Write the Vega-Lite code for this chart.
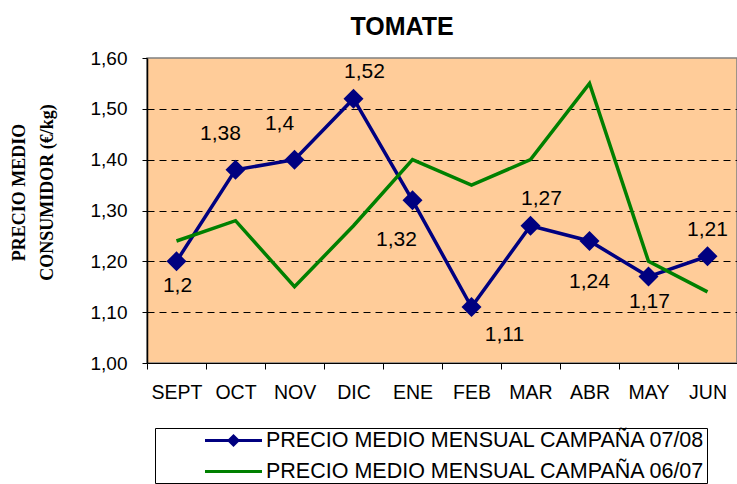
{
  "$schema": "https://vega.github.io/schema/vega-lite/v6.json",
  "width": 590,
  "height": 305,
  "autosize": {"type": "none"},
  "padding": {"left": 147, "top": 58, "right": 0, "bottom": 121},
  "background": "white",
  "config": {
    "locale": {"number": {"decimal": ",", "thousands": ".", "grouping": [3], "currency": ["", " €"]}},
    "view": {"fill": "#FFCC99", "stroke": "#808080", "strokeWidth": 1.5},
    "font": "Liberation Sans",
    "text": {"font": "Liberation Sans", "fontSize": 21, "color": "black", "baseline": "middle", "align": "center"}
  },
  "title": {"text": "TOMATE", "fontSize": 25, "font": "Liberation Sans", "fontWeight": "bold", "color": "black", "anchor": "middle", "dx": -40, "offset": 9},
  "data": {"values": [
    {"mes": "SEPT", "serie": "PRECIO MEDIO MENSUAL CAMPAÑA 07/08", "precio": 1.2},
    {"mes": "OCT", "serie": "PRECIO MEDIO MENSUAL CAMPAÑA 07/08", "precio": 1.38},
    {"mes": "NOV", "serie": "PRECIO MEDIO MENSUAL CAMPAÑA 07/08", "precio": 1.4},
    {"mes": "DIC", "serie": "PRECIO MEDIO MENSUAL CAMPAÑA 07/08", "precio": 1.52},
    {"mes": "ENE", "serie": "PRECIO MEDIO MENSUAL CAMPAÑA 07/08", "precio": 1.32},
    {"mes": "FEB", "serie": "PRECIO MEDIO MENSUAL CAMPAÑA 07/08", "precio": 1.11},
    {"mes": "MAR", "serie": "PRECIO MEDIO MENSUAL CAMPAÑA 07/08", "precio": 1.27},
    {"mes": "ABR", "serie": "PRECIO MEDIO MENSUAL CAMPAÑA 07/08", "precio": 1.24},
    {"mes": "MAY", "serie": "PRECIO MEDIO MENSUAL CAMPAÑA 07/08", "precio": 1.17},
    {"mes": "JUN", "serie": "PRECIO MEDIO MENSUAL CAMPAÑA 07/08", "precio": 1.21},
    {"mes": "SEPT", "serie": "PRECIO MEDIO MENSUAL CAMPAÑA 06/07", "precio": 1.24},
    {"mes": "OCT", "serie": "PRECIO MEDIO MENSUAL CAMPAÑA 06/07", "precio": 1.28},
    {"mes": "NOV", "serie": "PRECIO MEDIO MENSUAL CAMPAÑA 06/07", "precio": 1.15},
    {"mes": "DIC", "serie": "PRECIO MEDIO MENSUAL CAMPAÑA 06/07", "precio": 1.27},
    {"mes": "ENE", "serie": "PRECIO MEDIO MENSUAL CAMPAÑA 06/07", "precio": 1.4},
    {"mes": "FEB", "serie": "PRECIO MEDIO MENSUAL CAMPAÑA 06/07", "precio": 1.35},
    {"mes": "MAR", "serie": "PRECIO MEDIO MENSUAL CAMPAÑA 06/07", "precio": 1.4},
    {"mes": "ABR", "serie": "PRECIO MEDIO MENSUAL CAMPAÑA 06/07", "precio": 1.55},
    {"mes": "MAY", "serie": "PRECIO MEDIO MENSUAL CAMPAÑA 06/07", "precio": 1.2},
    {"mes": "JUN", "serie": "PRECIO MEDIO MENSUAL CAMPAÑA 06/07", "precio": 1.14}
  ]},
  "encoding": {
    "x": {
      "field": "mes", "type": "ordinal",
      "sort": ["SEPT", "OCT", "NOV", "DIC", "ENE", "FEB", "MAR", "ABR", "MAY", "JUN"],
      "scale": {"type": "band", "paddingInner": 0, "paddingOuter": 0},
      "axis": {
        "title": null, "labelAngle": 0, "labelFontSize": 19.5, "labelFont": "Liberation Sans", "labelColor": "black",
        "tickBand": "extent", "tickSize": 6, "tickColor": "#000", "domainColor": "#000", "domainWidth": 1,
        "labelPadding": 14, "grid": false
      }
    },
    "y": {
      "field": "precio", "type": "quantitative",
      "scale": {"domain": [1, 1.6], "nice": false, "zero": false},
      "axis": {
        "values": [1, 1.1, 1.2, 1.3, 1.4, 1.5, 1.6], "format": ".2f",
        "labelFontSize": 19, "labelFont": "Liberation Sans", "labelColor": "black", "labelPadding": 15,
        "tickSize": 5, "tickColor": "#000", "domainColor": "#000", "domainWidth": 1.5,
        "grid": true, "gridColor": "#000", "gridDash": [7, 5], "gridWidth": 1,
        "gridOpacity": {"condition": {"test": "datum.value > 1.59 || datum.value < 1.01", "value": 0}, "value": 1},
        "title": ["PRECIO MEDIO", "CONSUMIDOR (€/kg)"],
        "titleFont": "Liberation Serif", "titleFontWeight": "bold", "titleFontSize": 18, "titleColor": "black",
        "titleLineHeight": 28, "titleAngle": -90, "titleX": -128, "titleY": 134, "titleAlign": "center", "titleBaseline": "middle"
      }
    }
  },
  "layer": [
    {
      "mark": {"type": "line", "strokeWidth": 3.5},
      "encoding": {
        "color": {
          "field": "serie", "type": "nominal",
          "scale": {"domain": ["PRECIO MEDIO MENSUAL CAMPAÑA 07/08", "PRECIO MEDIO MENSUAL CAMPAÑA 06/07"], "range": ["#000080", "#008000"]},
          "legend": {
            "orient": "none", "legendX": 8, "legendY": 370, "title": null, "direction": "vertical",
            "strokeColor": "#000", "fillColor": "white", "padding": 1,
            "labelFontSize": 21.5, "labelFont": "Liberation Sans", "labelColor": "black", "labelLimit": 700,
            "symbolSize": 400, "symbolStrokeWidth": 3, "symbolOffset": 66, "labelOffset": 21, "rowPadding": 9,
            "encode": {"symbols": {"update": {
              "shape": {"signal": "datum.value === 'PRECIO MEDIO MENSUAL CAMPAÑA 07/08' ? 'M-2.85,0H2.85M-0.45,0L0,-0.45L0.45,0L0,0.45Z' : 'M-2.85,0H2.85'"},
              "fill": {"signal": "datum.value === 'PRECIO MEDIO MENSUAL CAMPAÑA 07/08' ? '#000080' : 'transparent'"}
            }}}
          }
        },
        "order": {"field": "serie", "sort": "descending"}
      }
    },
    {
      "transform": [{"filter": "datum.serie === 'PRECIO MEDIO MENSUAL CAMPAÑA 07/08'"}],
      "mark": {"type": "point", "shape": "diamond", "filled": true, "size": 400, "color": "#000080", "opacity": 1}
    },
    {
      "transform": [{"filter": "datum.serie === 'PRECIO MEDIO MENSUAL CAMPAÑA 07/08' && (datum.mes === 'SEPT' || datum.mes === 'MAY')"}],
      "mark": {"type": "text", "dx": 1, "dy": 25},
      "encoding": {"text": {"field": "precio", "type": "quantitative", "format": ".3~g"}}
    },
    {
      "transform": [{"filter": "datum.serie === 'PRECIO MEDIO MENSUAL CAMPAÑA 07/08' && datum.mes === 'FEB'"}],
      "mark": {"type": "text", "dx": 33, "dy": 28},
      "encoding": {"text": {"field": "precio", "type": "quantitative", "format": ".3~g"}}
    },
    {
      "transform": [{"filter": "datum.serie === 'PRECIO MEDIO MENSUAL CAMPAÑA 07/08' && datum.mes === 'ENE'"}],
      "mark": {"type": "text", "dx": -16, "dy": 40},
      "encoding": {"text": {"field": "precio", "type": "quantitative", "format": ".3~g"}}
    },
    {
      "transform": [{"filter": "datum.serie === 'PRECIO MEDIO MENSUAL CAMPAÑA 07/08' && datum.mes === 'ABR'"}],
      "mark": {"type": "text", "dx": 0, "dy": 41},
      "encoding": {"text": {"field": "precio", "type": "quantitative", "format": ".3~g"}}
    },
    {
      "transform": [{"filter": "datum.serie === 'PRECIO MEDIO MENSUAL CAMPAÑA 07/08' && (datum.mes === 'OCT' || datum.mes === 'NOV')"}],
      "mark": {"type": "text", "dx": -15, "dy": -36},
      "encoding": {"text": {"field": "precio", "type": "quantitative", "format": ".3~g"}}
    },
    {
      "transform": [{"filter": "datum.serie === 'PRECIO MEDIO MENSUAL CAMPAÑA 07/08' && (datum.mes === 'DIC' || datum.mes === 'MAR')"}],
      "mark": {"type": "text", "dx": 11, "dy": -27},
      "encoding": {"text": {"field": "precio", "type": "quantitative", "format": ".3~g"}}
    },
    {
      "transform": [{"filter": "datum.serie === 'PRECIO MEDIO MENSUAL CAMPAÑA 07/08' && datum.mes === 'JUN'"}],
      "mark": {"type": "text", "dx": 0, "dy": -26},
      "encoding": {"text": {"field": "precio", "type": "quantitative", "format": ".3~g"}}
    }
  ]
}
